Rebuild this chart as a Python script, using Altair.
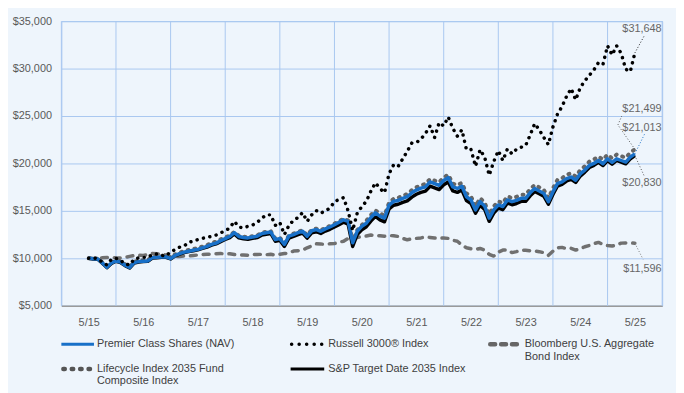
import altair as alt
import pandas as pd

# ---------------- data (growth of $10,000, monthly, 5/15 .. 5/25) ----------------
months = list(range(121))

premier = [10000, 9950, 9930, 9500, 9060, 9500, 9720, 9600, 9270, 9030,
           9550, 9650, 9700, 9720, 10070, 10100, 10140, 10140, 9970, 10300,
           10500, 10650, 10750, 10850, 10940, 11100, 11250, 11460, 11600, 11850,
           12080, 12300, 12700, 12300, 12200, 12150, 12250, 12330, 12600, 12700,
           12780, 11980, 12080, 11460, 12330, 12500, 12700, 12850, 12330, 12900,
           13020, 12850, 13100, 13300, 13540, 13800, 14060, 13900, 11640, 12850,
           13370, 13700, 14300, 14800, 14450, 14240, 15600, 16000, 16100, 16320,
           16490, 16900, 17190, 17400, 17530, 18050, 17880, 17700, 18200, 18500,
           17530, 17360, 17600, 16490, 16150, 15100, 15970, 15500, 14240, 15100,
           15620, 15450, 16150, 15970, 16100, 16320, 16320, 16900, 17360, 17100,
           16840, 15970, 17000, 17880, 18050, 18400, 18570, 18230, 18900, 19300,
           19790, 20000, 20310, 19970, 20490, 20100, 20490, 20310, 20140, 20660,
           21013]

russell = [10000, 10050, 9950, 9600, 9300, 9900, 10000, 9800, 9400, 9300,
           9900, 10050, 10100, 10100, 10400, 10450, 10300, 10240, 10700, 10900,
           11180, 11300, 11700, 11800, 11980, 12100, 12220, 12300, 12450, 12680,
           12900, 13200, 13890, 13300, 13200, 13370, 13500, 13780, 14200, 14580,
           14580, 13470, 13780, 12500, 13470, 14000, 14300, 14820, 13890, 14580,
           15030, 14760, 15000, 15280, 15970, 16200, 16390, 15000, 12920, 14760,
           15450, 16000, 17080, 17950, 17360, 16910, 18920, 19860, 19690, 20490,
           21280, 22150, 22200, 22570, 23160, 23960, 22740, 24300, 23960, 24900,
           23700, 22880, 23540, 21460, 21460, 19700, 21460, 20660, 18750, 20200,
           21350, 20300, 21530, 21010, 21500, 21700, 21880, 23000, 24200, 23540,
           22740, 21980, 23850, 25200, 26000, 27080, 27890, 26700, 28000, 28700,
           29300, 29860, 30630, 30450, 32400, 31430, 32400, 31600, 29930, 29690,
           31648]

bloomberg = [10000, 9980, 10000, 10050, 10080, 10100, 10050, 10030, 10100, 10200,
             10300, 10320, 10300, 10400, 10500, 10480, 10420, 10350, 10150, 10170,
             10200, 10250, 10250, 10300, 10350, 10400, 10420, 10450, 10480, 10500,
             10470, 10480, 10400, 10350, 10350, 10330, 10400, 10400, 10420, 10380,
             10420, 10350, 10420, 10500, 10550, 10760, 10800, 10850, 11110, 11300,
             11530, 11500, 11480, 11530, 11550, 11700, 11800, 12100, 12000, 12200,
             12300, 12350, 12450, 12400, 12380, 12330, 12400, 12380, 12300, 12100,
             11950, 12050, 12100, 12150, 12250, 12200, 12150, 12100, 12150, 12100,
             11900, 11800, 11400, 11110, 11000, 10940, 11040, 10850, 10420, 10240,
             10650, 10870, 10900, 10600, 10700, 10870, 10850, 10800, 10760, 10700,
             10590, 10310, 10750, 11110, 11150, 11010, 11050, 10870, 11000, 11220,
             11350, 11550, 11680, 11450, 11350, 11300, 11400, 11600, 11620, 11620,
             11596]

lifecycle = [10000, 9980, 9970, 9570, 9150, 9580, 9800, 9690, 9370, 9140,
             9650, 9760, 9810, 9840, 10180, 10220, 10260, 10260, 10090, 10420,
             10620, 10770, 10880, 10980, 11080, 11240, 11400, 11610, 11760, 12010,
             12240, 12380, 12780, 12380, 12280, 12230, 12330, 12410, 12690, 12790,
             12870, 12080, 12180, 11560, 12420, 12600, 12800, 12950, 12440, 13000,
             13130, 12960, 13210, 13410, 13650, 13910, 14170, 14000, 11800, 12980,
             13500, 13960, 14560, 15060, 14720, 14520, 15870, 16270, 16380, 16600,
             16780, 17190, 17490, 17700, 17840, 18360, 18200, 18020, 18520, 18820,
             17880, 17720, 17960, 16850, 16520, 15480, 16350, 15880, 14620, 15480,
             16000, 15830, 16530, 16350, 16480, 16700, 16700, 17280, 17740, 17480,
             17220, 16350, 17380, 18270, 18440, 18800, 18970, 18630, 19300, 19710,
             20200, 20420, 20730, 20400, 20930, 20540, 20940, 20770, 20610, 21140,
             21499]

sp2035 = [10000, 9930, 9900, 9470, 9020, 9460, 9690, 9560, 9220, 8980,
          9500, 9610, 9660, 9680, 10020, 10060, 10100, 10100, 9930, 10250,
          10450, 10600, 10700, 10800, 10890, 11040, 11180, 11390, 11520, 11760,
          11980, 12180, 12570, 12150, 12050, 12000, 12100, 12180, 12440, 12540,
          12620, 11800, 11900, 11250, 12130, 12300, 12500, 12650, 12120, 12690,
          12800, 12620, 12870, 13060, 13300, 13550, 13800, 13600, 11250, 12500,
          13000, 13330, 13920, 14420, 14050, 13850, 15200, 15600, 15700, 15900,
          16050, 16450, 16750, 16950, 17080, 17600, 17430, 17250, 17750, 18050,
          17100, 16950, 17200, 16100, 15780, 14750, 15600, 15150, 13900, 14770,
          15300, 15130, 15830, 15650, 15780, 16000, 16000, 16580, 17050, 16800,
          16540, 15700, 16720, 17620, 17800, 18150, 18330, 18000, 18670, 19080,
          19580, 19800, 20110, 19780, 20300, 19920, 20310, 20130, 19960, 20480,
          20830]

tick_labels = ["5/15", "5/16", "5/17", "5/18", "5/19", "5/20",
               "5/21", "5/22", "5/23", "5/24", "5/25"]
y_ticks = [5000, 10000, 15000, 20000, 25000, 30000, 35000]

end_values = [31648, 21499, 21013, 20830, 11596]
end_texts = ["$31,648", "$21,499", "$21,013", "$20,830", "$11,596"]

# ---------------- styling ----------------
BG = "#eef5fc"
GRID = "#a9c7f0"
BLUE = "#1870c8"
TXT = "#595959"
FONT = "Liberation Sans"

years = [m / 12 for m in months]

xs = alt.Scale(domain=[-0.5, 10.5], nice=False, zero=False)
ys = alt.Scale(domain=[5000, 35000], nice=False, zero=False)
label_expr = "[" + ",".join("'%s'" % s for s in tick_labels) + "][datum.value]"
xa = alt.Axis(values=list(range(len(tick_labels))), labelExpr=label_expr, grid=False,
              ticks=False, domain=True, domainColor="#9a9a9a", domainWidth=1.5,
              labelColor=TXT, labelFont=FONT, labelFontSize=11, labelPadding=11,
              title=None)
ya = alt.Axis(values=y_ticks, format="$,.0f", grid=True, gridColor=GRID, gridWidth=1,
              ticks=False, domain=False, labelColor=TXT, labelFont=FONT,
              labelFontSize=11, labelPadding=10, title=None)


def X(field="t"):
    return alt.X(f"{field}:Q", scale=xs, axis=xa)


def Y(field="v"):
    return alt.Y(f"{field}:Q", scale=ys, axis=ya)


def series(vals, **style):
    df = pd.DataFrame({"t": years, "v": vals})
    return alt.Chart(df).mark_line(strokeJoin="round", **style).encode(x=X(), y=Y())


one = alt.InlineData(values=[{"k": 0}])

# vertical gridlines between year labels
grid_df = pd.DataFrame({"t": [i - 0.5 for i in range(len(tick_labels) + 1)]})
vgrid = alt.Chart(grid_df).mark_rule(color=GRID, strokeWidth=1).encode(x=X())

l_bloom = series(bloomberg, color="#707070", strokeWidth=3.5, strokeDash=[6, 7], strokeCap="round")
l_life = series(lifecycle, color="#666666", strokeWidth=4, strokeDash=[1, 6], strokeCap="round")
l_sp = series(sp2035, color="#000000", strokeWidth=3.5)
l_prem = series(premier, color=BLUE, strokeWidth=3.5)
l_russ = series(russell, color="#000000", strokeWidth=3.5, strokeDash=[0.1, 6.5], strokeCap="round")

# end labels with leader lines
lab_df = pd.DataFrame({
    "t": [10.49] * 5,
    "v": [34167, 25730, 23780, 17885, 8854],
    "txt": end_texts,
})
labels = alt.Chart(lab_df).mark_text(align="right", baseline="middle", font=FONT,
                                      fontSize=11, color="#666666").encode(
    x=X(), y=Y(), text="txt:N")

leader_specs = [
    ("r", "#222222", [(10, end_values[0]), (10.18, 33540)]),
    ("l", "#555555", [(10, end_values[1]), (9.69, 24063), (9.76, 25000)]),
    ("p", BLUE, [(10, end_values[2]), (10.18, 23125)]),
    ("s", "#555555", [(10, end_values[3]), (10.18, 18573)]),
    ("b", "#777777", [(10, end_values[4]), (10.15, 9896)]),
]
leaders = []
for key, col, pts in leader_specs:
    d = pd.DataFrame({"t": [p[0] for p in pts], "v": [p[1] for p in pts],
                      "o": list(range(len(pts)))})
    leaders.append(alt.Chart(d).mark_line(color=col, strokeWidth=1, strokeDash=[1, 2]).encode(
        x=X(), y=Y(), order="o:Q"))

# ---------------- legend (below plot) ----------------
LEG = "#404040"


def leg_sym(x1, x2, y, **style):
    return alt.Chart(one).mark_rule(**style).encode(
        x=alt.value(x1), x2=alt.value(x2), y=alt.value(y))


def leg_txt(x, y, s):
    return alt.Chart(one).mark_text(align="left", baseline="middle", font=FONT,
                                    fontSize=11, color=LEG).encode(
        x=alt.value(x), y=alt.value(y), text=alt.value(s))


legend = [
    leg_sym(0, 33, 327, color=BLUE, strokeWidth=3),
    leg_txt(36, 327, "Premier Class Shares (NAV)"),
    leg_sym(233, 267, 327, color="#000000", strokeWidth=3.5, strokeDash=[0.1, 7.5], strokeCap="round"),
    leg_txt(270, 327, "Russell 3000® Index"),
    leg_sym(434, 461, 327, color="#666666", strokeWidth=4.5, strokeDash=[5, 6], strokeCap="round"),
    leg_txt(469, 327, "Bloomberg U.S. Aggregate"),
    leg_txt(469, 340, "Bond Index"),
    leg_sym(2, 31, 352, color="#555555", strokeWidth=4.5, strokeDash=[1.5, 7], strokeCap="round"),
    leg_txt(36, 352, "Lifecycle Index 2035 Fund"),
    leg_txt(36, 364, "Composite Index"),
    leg_sym(232, 266, 352, color="#000000", strokeWidth=3),
    leg_txt(270, 352, "S&P Target Date 2035 Index"),
]

chart = alt.layer(
    vgrid, l_bloom, l_life, l_sp, l_prem, l_russ, *leaders, labels, *legend
).properties(
    width=608, height=288,
    autosize=alt.AutoSizeParams(type="none"),
    padding={"left": 54, "top": 11, "right": 14, "bottom": 86},
    background=BG,
).configure_view(stroke=GRID, strokeWidth=1)

chart.save("out.html", embed_options={"renderer": "svg", "actions": False})
